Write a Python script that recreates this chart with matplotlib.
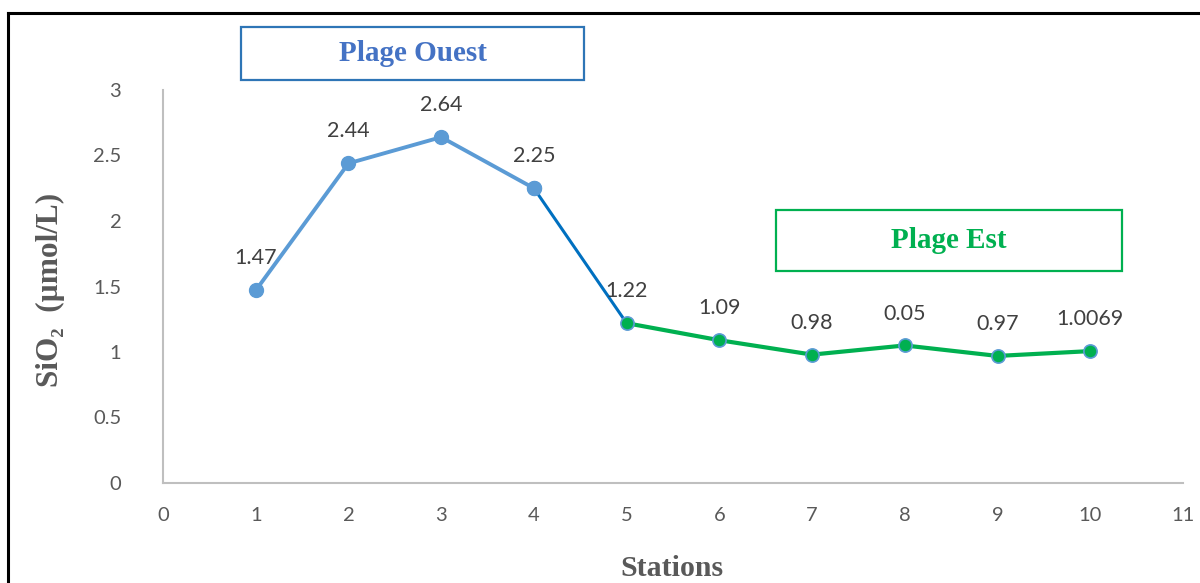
import matplotlib
matplotlib.use("Agg")
import matplotlib.pyplot as plt
from matplotlib.patches import Rectangle
from matplotlib.lines import Line2D

# Station numbers and dissolved silica concentrations
stations = [1, 2, 3, 4, 5, 6, 7, 8, 9, 10]
sio2 = [1.47, 2.44, 2.64, 2.25, 1.22, 1.09, 0.98, 1.05, 0.97, 1.0069]
# Data labels as printed on the chart
point_labels = ["1.47", "2.44", "2.64", "2.25", "1.22", "1.09", "0.98", "0.05", "0.97", "1.0069"]

x_ticks = list(range(0, 12))
y_ticks = [0, 0.5, 1, 1.5, 2, 2.5, 3]
y_tick_labels = ["0", "0.5", "1", "1.5", "2", "2.5", "3"]

W, H = 1200, 583
fig = plt.figure(figsize=(W / 100, H / 100), dpi=100)
ax = fig.add_axes([163 / W, 1 - 483 / H, (1183 - 163) / W, (483 - 90) / H])

LIGHT_BLUE = "#5B9BD5"
DARK_BLUE = "#0070C0"
GREEN = "#00B050"
GREY = "#595959"

# West beach (stations 1-4)
ax.plot(stations[:4], sio2[:4], color=LIGHT_BLUE, lw=2.8, marker="o", ms=10,
        mfc=LIGHT_BLUE, mec=LIGHT_BLUE, zorder=3, solid_capstyle="round")
# transition segment 4-5
ax.plot(stations[3:5], sio2[3:5], color=DARK_BLUE, lw=2.2, zorder=2)
# East beach (stations 5-10)
ax.plot(stations[4:], sio2[4:], color=GREEN, lw=3.0, marker="o", ms=9.5,
        mfc=GREEN, mec=LIGHT_BLUE, mew=1.2, zorder=3)
# redraw marker 4 on top of the transition segment
ax.plot(stations[3:4], sio2[3:4], "o", ms=10, mfc=LIGHT_BLUE, mec=LIGHT_BLUE, zorder=4)

for xs, ys, lab in zip(stations, sio2, point_labels):
    ax.annotate(lab, (xs, ys), xytext=(0, 23), textcoords="offset points",
                ha="center", va="center", fontsize=15.5, color="#404040",
                family="Lato", zorder=5)

ax.set_xlim(0, 11)
ax.set_ylim(0, 3)
ax.set_xticks(x_ticks)
ax.set_xticklabels([str(t) for t in x_ticks])
ax.set_yticks(y_ticks)
ax.set_yticklabels(y_tick_labels)
ax.tick_params(length=0, labelsize=14.5, labelcolor=GREY)
ax.tick_params(axis="x", pad=17)
ax.tick_params(axis="y", pad=30)
for lbl in ax.get_xticklabels() + ax.get_yticklabels():
    lbl.set_family("Lato")
for side in ("top", "right"):
    ax.spines[side].set_visible(False)
for side in ("left", "bottom"):
    ax.spines[side].set_color("#BFBFBF")
    ax.spines[side].set_linewidth(1.5)

# axis titles
fig.text(50 / W, 1 - 290 / H, "SiO\u2082  (\u00b5mol/L)", rotation=90, ha="center",
         va="center", fontsize=22.5, fontweight="bold", color=GREY,
         family=["Liberation Serif", "DejaVu Serif"])
fig.text(672 / W, 1 - 568 / H, "Stations", ha="center", va="center", fontsize=21.5,
         fontweight="bold", color=GREY, family="Liberation Serif")

# region boxes
def region_box(x0, y0, x1, y1, text, edge, tcolor):
    fig.patches.append(Rectangle((x0 / W, 1 - y1 / H), (x1 - x0) / W, (y1 - y0) / H,
                                 transform=fig.transFigure, fill=False,
                                 edgecolor=edge, lw=1.6))
    fig.text((x0 + x1) / 2 / W, 1 - (y0 + y1) / 2 / H, text, ha="center",
             va="center", fontsize=21, fontweight="bold", color=tcolor,
             family="Liberation Serif")

region_box(241, 27, 584, 80, "Plage Ouest", "#2E75B6", "#4472C4")
region_box(776, 210, 1122, 271, "Plage Est", GREEN, GREEN)

# frame lines along the top and left edges
fig.add_artist(Line2D([7.5 / W, 7.5 / W], [0, 1 - 12.5 / H], transform=fig.transFigure,
                      color="black", lw=2.2))
fig.add_artist(Line2D([7.5 / W, 1], [1 - 12.5 / H, 1 - 12.5 / H], transform=fig.transFigure,
                      color="black", lw=2.2))

fig.savefig("out.png", dpi=100)
